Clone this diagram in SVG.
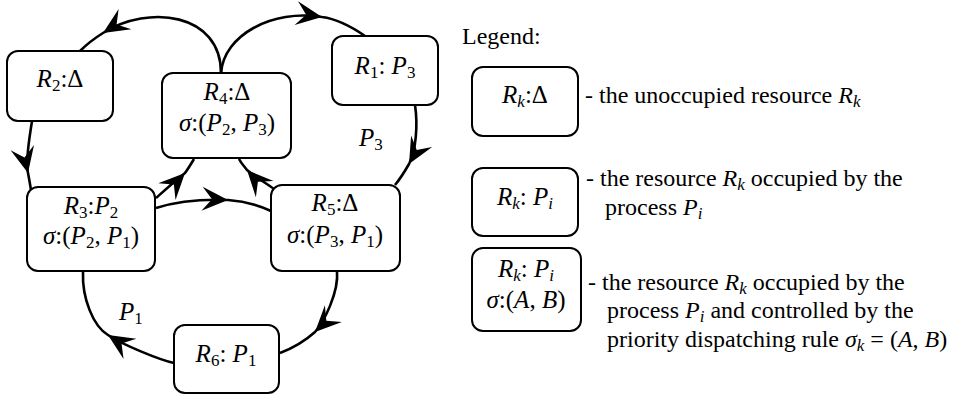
<svg xmlns="http://www.w3.org/2000/svg" width="961" height="401" viewBox="0 0 961 401" font-family="Liberation Serif, Times New Roman, serif">
<defs>
<style>
.box{fill:#fff;stroke:#000;stroke-width:2}
.con{fill:none;stroke:#000;stroke-width:2.6;marker-mid:url(#ah)}
text{fill:#000}
.m{font-size:25px}
.t{font-size:24px}
.i{font-style:italic}
.s{font-size:17px}
</style>
<marker id="ah" markerUnits="userSpaceOnUse" viewBox="-28 -14 30 28" markerWidth="30" markerHeight="28" refX="0" refY="0" orient="auto" overflow="visible">
<path d="M0,0 L-26,-12 L-16,0 L-26,12 Z" fill="#000"/>
</marker>
</defs>
<rect width="961" height="401" fill="#fff"/>
<g id="connectors">
<path class="con" d="M221,73 C221,13 149,4 103,33 C95,38 86,45 80,51"/>
<path class="con" d="M221,73 C224,35 272,9 322,17 C337,19 352,27 365,36"/>
<path class="con" d="M415,105 C418,125 416,151 409,164 C405,171 400,179 395,185"/>
<path class="con" d="M32,121 C30,135 25,161 28,173 C29,178 30,184 31,190"/>
<path class="con" d="M156,198 C165,190 175,181 185,173 C188,169 191,164 194,159"/>
<path class="con" d="M274,189 C266,183 255,177 247,170 C244,166 241,163 239,159"/>
<path class="con" d="M156,208 C175,202 200,199 228,200 C243,201 258,205 271,211"/>
<path class="con" d="M337,271 C339,292 324,322 315,332 C305,341 293,348 280,353"/>
<path class="con" d="M174,363 C160,360 123,345 108,335 C93,326 82,298 83,272"/>
</g>
<g id="R2">
<rect class="box" x="7" y="51" width="106" height="70" rx="11"/>
<text class="m" x="60" y="87" text-anchor="middle" font-family="Liberation Serif, serif"><tspan class="i">R</tspan><tspan class="s" dy="4">2</tspan><tspan dy="-4">:Δ</tspan></text>
</g>
<g id="R4">
<rect class="box" x="162" y="73" width="129" height="85" rx="11"/>
<text class="m" x="227" y="100" text-anchor="middle" font-family="Liberation Serif, serif"><tspan class="i">R</tspan><tspan class="s" dy="4">4</tspan><tspan dy="-4">:Δ</tspan></text>
<text class="m" x="227" y="131" text-anchor="middle" font-family="Liberation Serif, serif"><tspan class="i">σ</tspan><tspan>:(</tspan><tspan class="i">P</tspan><tspan class="s" dy="4">2</tspan><tspan dy="-4">, </tspan><tspan class="i">P</tspan><tspan class="s" dy="4">3</tspan><tspan dy="-4">)</tspan></text>
</g>
<g id="R1">
<rect class="box" x="332" y="36" width="106" height="69" rx="11"/>
<text class="m" x="385" y="74" text-anchor="middle" font-family="Liberation Serif, serif"><tspan class="i">R</tspan><tspan class="s" dy="4">1</tspan><tspan dy="-4">: </tspan><tspan class="i">P</tspan><tspan class="s" dy="4">3</tspan></text>
</g>
<g id="R3">
<rect class="box" x="27" y="187" width="128" height="84" rx="11"/>
<text class="m" x="91" y="214" text-anchor="middle" font-family="Liberation Serif, serif"><tspan class="i">R</tspan><tspan class="s" dy="4">3</tspan><tspan dy="-4">:</tspan><tspan class="i">P</tspan><tspan class="s" dy="4">2</tspan></text>
<text class="m" x="91" y="244" text-anchor="middle" font-family="Liberation Serif, serif"><tspan class="i">σ</tspan><tspan>:(</tspan><tspan class="i">P</tspan><tspan class="s" dy="4">2</tspan><tspan dy="-4">, </tspan><tspan class="i">P</tspan><tspan class="s" dy="4">1</tspan><tspan dy="-4">)</tspan></text>
</g>
<g id="R5">
<rect class="box" x="271" y="185" width="129" height="86" rx="11"/>
<text class="m" x="335" y="211" text-anchor="middle" font-family="Liberation Serif, serif"><tspan class="i">R</tspan><tspan class="s" dy="4">5</tspan><tspan dy="-4">:Δ</tspan></text>
<text class="m" x="335" y="243" text-anchor="middle" font-family="Liberation Serif, serif"><tspan class="i">σ</tspan><tspan>:(</tspan><tspan class="i">P</tspan><tspan class="s" dy="4">3</tspan><tspan dy="-4">, </tspan><tspan class="i">P</tspan><tspan class="s" dy="4">1</tspan><tspan dy="-4">)</tspan></text>
</g>
<g id="R6">
<rect class="box" x="174" y="325" width="105" height="68" rx="11"/>
<text class="m" x="226" y="362" text-anchor="middle" font-family="Liberation Serif, serif"><tspan class="i">R</tspan><tspan class="s" dy="4">6</tspan><tspan dy="-4">: </tspan><tspan class="i">P</tspan><tspan class="s" dy="4">1</tspan></text>
</g>
<g id="labels" font-family="Liberation Serif, serif">
<text class="m" x="359" y="146"><tspan class="i">P</tspan><tspan class="s" dy="4">3</tspan></text>
<text class="m" x="119" y="320"><tspan class="i">P</tspan><tspan class="s" dy="4">1</tspan></text>
</g>
<g id="legend" font-family="Liberation Serif, serif">
<text class="t" x="462" y="44">Legend:</text>
<g id="legend-unoccupied">
<rect class="box" x="472" y="67" width="106" height="69" rx="11"/>
<text class="m" x="525" y="103" text-anchor="middle"><tspan class="i">R</tspan><tspan class="s i" dy="4">k</tspan><tspan dy="-4">:Δ</tspan></text>
<text class="t" x="585" y="103">- the unoccupied resource <tspan class="i">R</tspan><tspan class="s i" dy="4">k</tspan></text>
</g>
<g id="legend-occupied">
<rect class="box" x="472" y="168" width="106" height="68" rx="11"/>
<text class="m" x="525" y="205" text-anchor="middle"><tspan class="i">R</tspan><tspan class="s i" dy="4">k</tspan><tspan dy="-4">: </tspan><tspan class="i">P</tspan><tspan class="s i" dy="4">i</tspan></text>
<text class="t" x="586" y="186">- the resource <tspan class="i">R</tspan><tspan class="s i" dy="4">k</tspan><tspan dy="-4"> occupied by the</tspan></text>
<text class="t" x="605" y="215">process  <tspan class="i">P</tspan><tspan class="s i" dy="4">i</tspan></text>
</g>
<g id="legend-controlled">
<rect class="box" x="472" y="248" width="109" height="83" rx="11"/>
<text class="m" x="526" y="277" text-anchor="middle"><tspan class="i">R</tspan><tspan class="s i" dy="4">k</tspan><tspan dy="-4">: </tspan><tspan class="i">P</tspan><tspan class="s i" dy="4">i</tspan></text>
<text class="m" x="526" y="308" text-anchor="middle"><tspan class="i">σ</tspan><tspan>:(</tspan><tspan class="i">A</tspan><tspan>, </tspan><tspan class="i">B</tspan><tspan>)</tspan></text>
<text class="t" x="588" y="290">- the resource <tspan class="i">R</tspan><tspan class="s i" dy="4">k</tspan><tspan dy="-4"> occupied by the</tspan></text>
<text class="t" x="607" y="318">process <tspan class="i">P</tspan><tspan class="s i" dy="4">i</tspan><tspan dy="-4"> and controlled by the</tspan></text>
<text class="t" x="607" y="347">priority dispatching rule <tspan class="i">σ</tspan><tspan class="s i" dy="4">k</tspan><tspan dy="-4"> = (</tspan><tspan class="i">A</tspan><tspan>, </tspan><tspan class="i">B</tspan><tspan>)</tspan></text>
</g>
</g>
</svg>
